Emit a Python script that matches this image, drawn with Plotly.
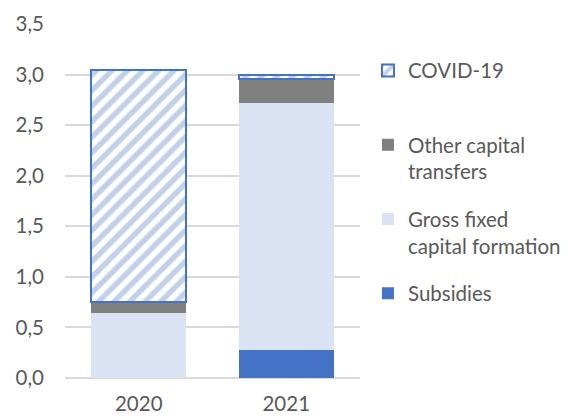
import plotly.graph_objects as go

years = ["2020", "2021"]
subsidies = [0.0, 0.275]
gfcf = [0.645, 2.44]
other_transfers = [0.11, 0.24]
covid = [2.29, 0.045]

names = ["Subsidies", "Gross fixed<br>capital formation", "Other capital<br>transfers", "COVID-19<br> "]
FONT = "Lato"
TXT = "#595959"
FS = 20.5

fig = go.Figure()
fig.add_bar(x=years, y=subsidies, name=names[0], legendgroup="a", legendrank=4,
            marker=dict(color="#4472C4", line=dict(width=0)))
fig.add_bar(x=years, y=gfcf, name=names[1], legendgroup="b", legendrank=3,
            marker=dict(color="#DAE3F3", line=dict(width=0)))
fig.add_bar(x=years, y=other_transfers, name=names[2], legendgroup="c", legendrank=2,
            marker=dict(color="#808080", line=dict(width=0)))
fig.add_bar(x=years, y=covid, name=names[3], legendgroup="d", legendrank=1,
            marker=dict(color="white", line=dict(color="#4472C4", width=2),
                        pattern=dict(shape="/", fgcolor="#86A4D8", bgcolor="white",
                                     size=11, solidity=0.5)))

fig.update_layout(
    width=578, height=416,
    margin=dict(l=65, r=214, t=24, b=38),
    barmode="stack", bargap=0.355,
    separators=", ",
    plot_bgcolor="white", paper_bgcolor="white",
    font=dict(family=FONT, size=FS, color=TXT),
    legend=dict(x=1.027, xanchor="left", y=0.925, yanchor="top",
                traceorder="grouped", tracegroupgap=18, valign="top",
                font=dict(family=FONT, size=FS, color=TXT),
                bgcolor="rgba(0,0,0,0)"),
    xaxis=dict(showgrid=False, showline=False, ticks="", ticklabelstandoff=11,
               automargin=False,
               tickfont=dict(family=FONT, size=FS, color=TXT)),
    yaxis=dict(range=[0, 3.5], dtick=0.5, tickformat=".1f", showgrid=True,
               gridcolor="#D9D9D9", gridwidth=1.5, zeroline=True,
               zerolinecolor="#D9D9D9", zerolinewidth=1.5, ticks="",
               ticklabelstandoff=20, automargin=False,
               tickfont=dict(family=FONT, size=FS, color=TXT)),
)

fig.write_html("out.html")
